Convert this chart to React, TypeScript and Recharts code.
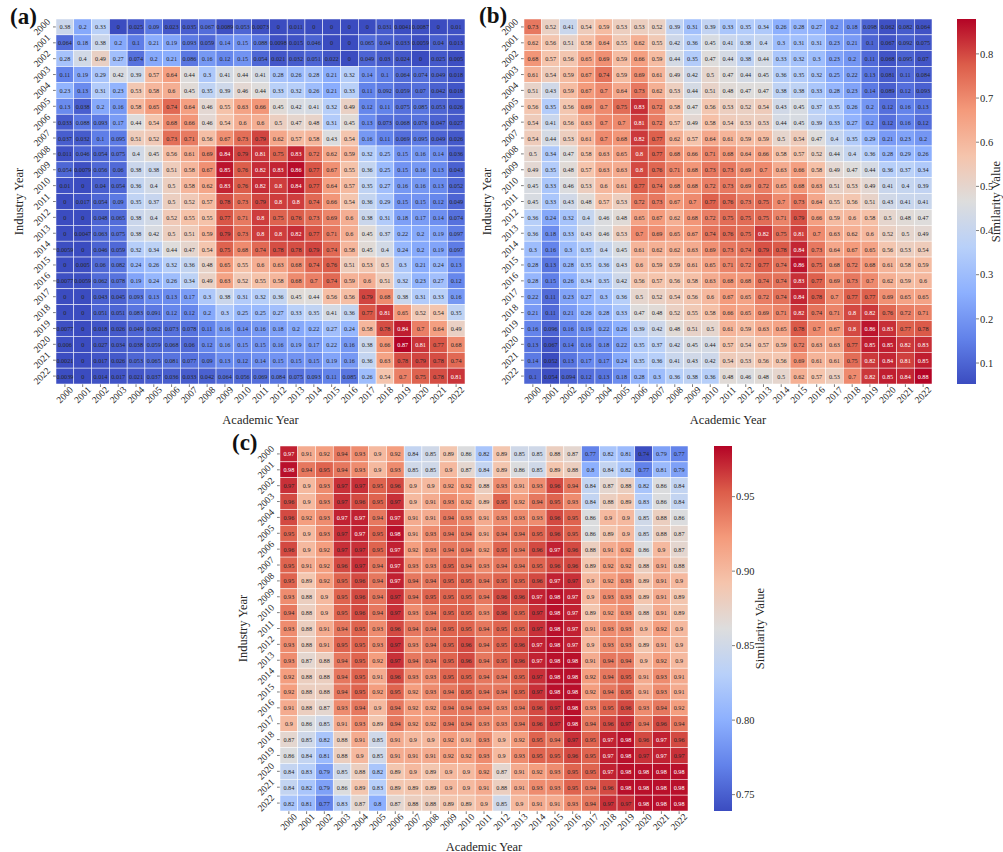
import { BarChart, Bar, Scatter, ScatterChart, XAxis, YAxis } from "recharts";

const years = [
  2000, 2001, 2002, 2003, 2004, 2005, 2006, 2007, 2008, 2009, 2010, 2011,
  2012, 2013, 2014, 2015, 2016, 2017, 2018, 2019, 2020, 2021, 2022,
];

// rows are industry years, columns academic years
const panelA = [
  [0.38, 0.2, 0.33, 0, 0.025, 0.09, 0.023, 0.035, 0.067, 0.0089, 0.053, 0.0073, 0, 0.011, 0, 0, 0, 0, 0.031, 0.0041, 0.0087, 0, 0.01],
  [0.064, 0.18, 0.38, 0.2, 0.1, 0.21, 0.19, 0.093, 0.059, 0.14, 0.15, 0.088, 0.0098, 0.015, 0.046, 0, 0, 0.065, 0.04, 0.033, 0.0059, 0.04, 0.013],
  [0.28, 0.4, 0.49, 0.27, 0.074, 0.2, 0.21, 0.086, 0.16, 0.12, 0.15, 0.054, 0.021, 0.032, 0.051, 0.022, 0, 0.049, 0.03, 0.024, 0, 0.025, 0.005],
  [0.11, 0.19, 0.29, 0.42, 0.39, 0.57, 0.64, 0.44, 0.3, 0.41, 0.44, 0.41, 0.28, 0.26, 0.28, 0.21, 0.32, 0.14, 0.1, 0.064, 0.074, 0.049, 0.018],
  [0.23, 0.13, 0.31, 0.23, 0.53, 0.58, 0.6, 0.45, 0.35, 0.39, 0.46, 0.44, 0.33, 0.32, 0.26, 0.21, 0.33, 0.11, 0.092, 0.059, 0.07, 0.042, 0.018],
  [0.13, 0.038, 0.2, 0.16, 0.58, 0.65, 0.74, 0.64, 0.46, 0.55, 0.63, 0.66, 0.45, 0.42, 0.41, 0.32, 0.49, 0.12, 0.11, 0.075, 0.085, 0.053, 0.026],
  [0.033, 0.088, 0.093, 0.17, 0.44, 0.54, 0.68, 0.66, 0.46, 0.54, 0.6, 0.6, 0.5, 0.47, 0.48, 0.31, 0.45, 0.13, 0.073, 0.068, 0.076, 0.047, 0.027],
  [0.037, 0.032, 0.1, 0.095, 0.51, 0.52, 0.73, 0.71, 0.56, 0.67, 0.73, 0.79, 0.62, 0.57, 0.58, 0.43, 0.54, 0.16, 0.11, 0.069, 0.095, 0.049, 0.026],
  [0.011, 0.046, 0.054, 0.075, 0.4, 0.45, 0.56, 0.61, 0.69, 0.84, 0.79, 0.81, 0.75, 0.83, 0.72, 0.62, 0.59, 0.32, 0.25, 0.15, 0.16, 0.14, 0.036],
  [0.054, 0.0079, 0.056, 0.06, 0.38, 0.38, 0.51, 0.58, 0.67, 0.85, 0.76, 0.82, 0.83, 0.86, 0.77, 0.67, 0.55, 0.36, 0.25, 0.15, 0.16, 0.13, 0.043],
  [0.01, 0, 0.04, 0.054, 0.36, 0.4, 0.5, 0.58, 0.62, 0.83, 0.76, 0.82, 0.8, 0.84, 0.77, 0.64, 0.57, 0.35, 0.27, 0.16, 0.16, 0.13, 0.052],
  [0, 0.017, 0.054, 0.09, 0.35, 0.37, 0.5, 0.52, 0.57, 0.78, 0.73, 0.79, 0.8, 0.8, 0.74, 0.66, 0.54, 0.36, 0.29, 0.15, 0.15, 0.12, 0.049],
  [0, 0, 0.048, 0.065, 0.38, 0.4, 0.52, 0.55, 0.55, 0.77, 0.71, 0.8, 0.75, 0.76, 0.73, 0.69, 0.6, 0.38, 0.31, 0.18, 0.17, 0.14, 0.074],
  [0, 0.0047, 0.063, 0.075, 0.38, 0.42, 0.5, 0.51, 0.59, 0.79, 0.73, 0.8, 0.8, 0.82, 0.77, 0.71, 0.6, 0.45, 0.37, 0.22, 0.2, 0.19, 0.097],
  [0.0059, 0, 0.046, 0.059, 0.32, 0.34, 0.44, 0.47, 0.54, 0.75, 0.68, 0.74, 0.78, 0.78, 0.79, 0.74, 0.58, 0.45, 0.4, 0.24, 0.2, 0.19, 0.097],
  [0, 0.005, 0.06, 0.082, 0.24, 0.26, 0.32, 0.36, 0.48, 0.65, 0.55, 0.6, 0.63, 0.68, 0.74, 0.76, 0.51, 0.53, 0.5, 0.3, 0.21, 0.24, 0.13],
  [0.0077, 0.0059, 0.062, 0.078, 0.19, 0.24, 0.26, 0.34, 0.49, 0.63, 0.52, 0.55, 0.58, 0.68, 0.7, 0.74, 0.59, 0.6, 0.51, 0.32, 0.23, 0.27, 0.12],
  [0, 0, 0.043, 0.045, 0.093, 0.13, 0.13, 0.17, 0.3, 0.38, 0.31, 0.32, 0.36, 0.45, 0.44, 0.56, 0.56, 0.79, 0.68, 0.38, 0.31, 0.33, 0.16],
  [0, 0, 0.051, 0.051, 0.083, 0.091, 0.12, 0.12, 0.2, 0.3, 0.25, 0.25, 0.27, 0.33, 0.35, 0.41, 0.36, 0.77, 0.81, 0.65, 0.52, 0.54, 0.35],
  [0.0077, 0, 0.018, 0.026, 0.049, 0.062, 0.073, 0.078, 0.11, 0.16, 0.14, 0.16, 0.18, 0.2, 0.22, 0.27, 0.24, 0.58, 0.78, 0.84, 0.7, 0.64, 0.49],
  [0.006, 0, 0.027, 0.034, 0.038, 0.059, 0.068, 0.06, 0.12, 0.16, 0.15, 0.15, 0.16, 0.19, 0.17, 0.22, 0.16, 0.38, 0.66, 0.87, 0.81, 0.77, 0.68],
  [0.0021, 0, 0.017, 0.026, 0.053, 0.065, 0.081, 0.077, 0.09, 0.13, 0.12, 0.14, 0.15, 0.15, 0.15, 0.19, 0.16, 0.36, 0.63, 0.78, 0.79, 0.78, 0.74],
  [0.0039, 0, 0.014, 0.017, 0.021, 0.037, 0.036, 0.033, 0.042, 0.064, 0.056, 0.069, 0.084, 0.075, 0.093, 0.11, 0.085, 0.26, 0.54, 0.7, 0.75, 0.78, 0.81],
];

const panelB = [
  [0.73, 0.52, 0.41, 0.54, 0.59, 0.53, 0.53, 0.52, 0.39, 0.31, 0.39, 0.33, 0.35, 0.34, 0.26, 0.28, 0.27, 0.2, 0.18, 0.098, 0.062, 0.082, 0.064],
  [0.62, 0.56, 0.51, 0.58, 0.64, 0.55, 0.62, 0.55, 0.42, 0.36, 0.45, 0.41, 0.38, 0.4, 0.3, 0.31, 0.31, 0.23, 0.21, 0.1, 0.067, 0.092, 0.075],
  [0.68, 0.57, 0.56, 0.65, 0.69, 0.59, 0.66, 0.59, 0.44, 0.35, 0.47, 0.44, 0.38, 0.44, 0.33, 0.32, 0.3, 0.23, 0.2, 0.11, 0.068, 0.095, 0.07],
  [0.61, 0.54, 0.59, 0.67, 0.74, 0.59, 0.69, 0.61, 0.49, 0.42, 0.5, 0.47, 0.44, 0.45, 0.36, 0.35, 0.32, 0.25, 0.22, 0.13, 0.081, 0.11, 0.084],
  [0.51, 0.43, 0.59, 0.67, 0.7, 0.64, 0.73, 0.62, 0.53, 0.44, 0.51, 0.48, 0.47, 0.47, 0.38, 0.38, 0.33, 0.28, 0.23, 0.14, 0.089, 0.12, 0.093],
  [0.56, 0.35, 0.56, 0.69, 0.7, 0.75, 0.83, 0.72, 0.58, 0.47, 0.56, 0.53, 0.52, 0.54, 0.43, 0.45, 0.37, 0.35, 0.26, 0.2, 0.12, 0.16, 0.13],
  [0.54, 0.41, 0.56, 0.63, 0.7, 0.7, 0.81, 0.72, 0.57, 0.49, 0.58, 0.54, 0.53, 0.53, 0.44, 0.45, 0.39, 0.33, 0.27, 0.2, 0.12, 0.16, 0.12],
  [0.54, 0.44, 0.53, 0.61, 0.7, 0.68, 0.82, 0.77, 0.62, 0.57, 0.64, 0.61, 0.59, 0.59, 0.5, 0.54, 0.47, 0.4, 0.35, 0.29, 0.21, 0.23, 0.2],
  [0.5, 0.34, 0.47, 0.58, 0.63, 0.65, 0.8, 0.77, 0.68, 0.66, 0.71, 0.68, 0.64, 0.66, 0.58, 0.57, 0.52, 0.44, 0.4, 0.36, 0.28, 0.29, 0.26],
  [0.49, 0.35, 0.48, 0.57, 0.63, 0.63, 0.8, 0.76, 0.71, 0.68, 0.73, 0.73, 0.69, 0.7, 0.63, 0.66, 0.58, 0.49, 0.47, 0.44, 0.36, 0.37, 0.34],
  [0.45, 0.33, 0.46, 0.53, 0.6, 0.61, 0.77, 0.74, 0.68, 0.68, 0.72, 0.73, 0.69, 0.72, 0.65, 0.68, 0.63, 0.51, 0.53, 0.49, 0.41, 0.4, 0.39],
  [0.45, 0.33, 0.43, 0.48, 0.57, 0.53, 0.72, 0.73, 0.67, 0.7, 0.77, 0.76, 0.73, 0.75, 0.7, 0.73, 0.64, 0.55, 0.56, 0.51, 0.43, 0.41, 0.41],
  [0.36, 0.24, 0.32, 0.4, 0.46, 0.48, 0.65, 0.67, 0.62, 0.68, 0.72, 0.75, 0.75, 0.75, 0.71, 0.79, 0.66, 0.59, 0.6, 0.58, 0.5, 0.48, 0.47],
  [0.36, 0.18, 0.33, 0.43, 0.46, 0.53, 0.7, 0.69, 0.65, 0.67, 0.74, 0.76, 0.75, 0.82, 0.75, 0.81, 0.7, 0.63, 0.62, 0.6, 0.52, 0.5, 0.49],
  [0.3, 0.16, 0.3, 0.35, 0.4, 0.45, 0.61, 0.62, 0.62, 0.63, 0.69, 0.73, 0.74, 0.79, 0.78, 0.84, 0.73, 0.64, 0.67, 0.65, 0.56, 0.53, 0.54],
  [0.28, 0.13, 0.28, 0.35, 0.36, 0.43, 0.6, 0.59, 0.59, 0.61, 0.65, 0.71, 0.72, 0.77, 0.74, 0.86, 0.75, 0.68, 0.72, 0.68, 0.61, 0.58, 0.59],
  [0.28, 0.15, 0.26, 0.34, 0.35, 0.42, 0.56, 0.57, 0.56, 0.58, 0.63, 0.68, 0.68, 0.74, 0.74, 0.83, 0.77, 0.69, 0.73, 0.7, 0.62, 0.59, 0.6],
  [0.22, 0.11, 0.23, 0.27, 0.3, 0.36, 0.5, 0.52, 0.54, 0.56, 0.6, 0.67, 0.65, 0.72, 0.74, 0.84, 0.78, 0.7, 0.77, 0.77, 0.69, 0.65, 0.65],
  [0.21, 0.11, 0.21, 0.26, 0.28, 0.33, 0.47, 0.48, 0.52, 0.55, 0.58, 0.66, 0.65, 0.69, 0.71, 0.82, 0.74, 0.71, 0.8, 0.82, 0.76, 0.72, 0.71],
  [0.16, 0.096, 0.16, 0.19, 0.22, 0.26, 0.39, 0.42, 0.48, 0.51, 0.5, 0.61, 0.59, 0.63, 0.65, 0.78, 0.7, 0.67, 0.8, 0.86, 0.83, 0.77, 0.78],
  [0.13, 0.067, 0.14, 0.16, 0.18, 0.22, 0.35, 0.37, 0.42, 0.45, 0.44, 0.57, 0.54, 0.57, 0.59, 0.72, 0.63, 0.63, 0.77, 0.85, 0.85, 0.82, 0.83],
  [0.14, 0.052, 0.13, 0.17, 0.17, 0.24, 0.35, 0.36, 0.41, 0.43, 0.42, 0.54, 0.53, 0.56, 0.56, 0.69, 0.61, 0.61, 0.75, 0.82, 0.84, 0.81, 0.85],
  [0.1, 0.054, 0.094, 0.12, 0.13, 0.18, 0.28, 0.3, 0.36, 0.38, 0.36, 0.48, 0.46, 0.48, 0.5, 0.62, 0.57, 0.53, 0.7, 0.82, 0.85, 0.84, 0.88],
];

// third decimal kept where it shows: 0.974 prints 0.97 in white, 0.969 in black
const panelC = [
  [0.974, 0.91, 0.92, 0.94, 0.93, 0.9, 0.92, 0.84, 0.85, 0.89, 0.86, 0.82, 0.89, 0.85, 0.85, 0.88, 0.87, 0.77, 0.82, 0.81, 0.74, 0.79, 0.77],
  [0.98, 0.94, 0.95, 0.94, 0.93, 0.9, 0.93, 0.85, 0.85, 0.9, 0.87, 0.84, 0.89, 0.86, 0.85, 0.89, 0.88, 0.8, 0.84, 0.82, 0.77, 0.81, 0.79],
  [0.969, 0.9, 0.93, 0.969, 0.969, 0.95, 0.96, 0.9, 0.9, 0.92, 0.92, 0.88, 0.93, 0.91, 0.93, 0.96, 0.94, 0.84, 0.87, 0.88, 0.82, 0.86, 0.84],
  [0.96, 0.9, 0.93, 0.969, 0.96, 0.95, 0.969, 0.9, 0.91, 0.93, 0.92, 0.89, 0.95, 0.92, 0.94, 0.95, 0.93, 0.84, 0.88, 0.89, 0.83, 0.86, 0.84],
  [0.96, 0.92, 0.93, 0.974, 0.974, 0.94, 0.974, 0.91, 0.91, 0.94, 0.93, 0.91, 0.93, 0.93, 0.93, 0.96, 0.95, 0.86, 0.9, 0.9, 0.85, 0.88, 0.86],
  [0.95, 0.9, 0.93, 0.969, 0.974, 0.95, 0.98, 0.91, 0.93, 0.94, 0.94, 0.91, 0.94, 0.94, 0.95, 0.96, 0.95, 0.86, 0.89, 0.9, 0.85, 0.88, 0.87],
  [0.96, 0.9, 0.92, 0.969, 0.969, 0.95, 0.974, 0.92, 0.93, 0.94, 0.94, 0.92, 0.95, 0.94, 0.96, 0.974, 0.96, 0.88, 0.91, 0.92, 0.86, 0.9, 0.87],
  [0.95, 0.91, 0.92, 0.96, 0.969, 0.94, 0.974, 0.93, 0.93, 0.95, 0.94, 0.93, 0.94, 0.94, 0.95, 0.96, 0.96, 0.89, 0.92, 0.92, 0.88, 0.91, 0.88],
  [0.95, 0.89, 0.92, 0.95, 0.96, 0.94, 0.974, 0.94, 0.94, 0.95, 0.95, 0.94, 0.95, 0.95, 0.96, 0.974, 0.969, 0.9, 0.92, 0.93, 0.89, 0.91, 0.9],
  [0.93, 0.88, 0.9, 0.95, 0.96, 0.94, 0.969, 0.94, 0.95, 0.95, 0.95, 0.94, 0.96, 0.96, 0.974, 0.98, 0.974, 0.9, 0.93, 0.93, 0.89, 0.91, 0.89],
  [0.94, 0.88, 0.9, 0.95, 0.96, 0.94, 0.969, 0.93, 0.94, 0.95, 0.95, 0.93, 0.96, 0.95, 0.969, 0.98, 0.974, 0.89, 0.92, 0.93, 0.88, 0.91, 0.89],
  [0.93, 0.88, 0.91, 0.94, 0.95, 0.93, 0.96, 0.94, 0.94, 0.95, 0.95, 0.94, 0.95, 0.95, 0.969, 0.98, 0.974, 0.91, 0.93, 0.93, 0.9, 0.92, 0.9],
  [0.93, 0.88, 0.91, 0.95, 0.95, 0.93, 0.969, 0.93, 0.94, 0.95, 0.96, 0.94, 0.95, 0.96, 0.974, 0.98, 0.974, 0.9, 0.93, 0.93, 0.89, 0.91, 0.9],
  [0.93, 0.87, 0.88, 0.94, 0.95, 0.92, 0.969, 0.94, 0.94, 0.95, 0.96, 0.94, 0.95, 0.96, 0.974, 0.98, 0.98, 0.91, 0.94, 0.94, 0.9, 0.92, 0.9],
  [0.92, 0.88, 0.88, 0.94, 0.95, 0.91, 0.96, 0.93, 0.93, 0.95, 0.95, 0.94, 0.94, 0.95, 0.969, 0.98, 0.98, 0.92, 0.94, 0.95, 0.91, 0.93, 0.91],
  [0.92, 0.88, 0.88, 0.94, 0.95, 0.92, 0.95, 0.92, 0.93, 0.94, 0.95, 0.94, 0.94, 0.95, 0.969, 0.98, 0.98, 0.92, 0.94, 0.95, 0.91, 0.93, 0.91],
  [0.91, 0.88, 0.87, 0.93, 0.94, 0.9, 0.94, 0.92, 0.92, 0.94, 0.94, 0.94, 0.93, 0.94, 0.96, 0.969, 0.98, 0.93, 0.95, 0.96, 0.93, 0.94, 0.92],
  [0.9, 0.86, 0.85, 0.91, 0.93, 0.89, 0.94, 0.92, 0.92, 0.94, 0.94, 0.93, 0.93, 0.94, 0.96, 0.969, 0.98, 0.94, 0.96, 0.969, 0.94, 0.96, 0.94],
  [0.87, 0.85, 0.82, 0.88, 0.91, 0.85, 0.91, 0.9, 0.9, 0.92, 0.91, 0.93, 0.9, 0.92, 0.95, 0.94, 0.969, 0.95, 0.974, 0.98, 0.96, 0.974, 0.96],
  [0.86, 0.84, 0.81, 0.88, 0.9, 0.85, 0.91, 0.91, 0.91, 0.92, 0.92, 0.93, 0.9, 0.93, 0.95, 0.95, 0.96, 0.95, 0.974, 0.98, 0.969, 0.974, 0.969],
  [0.84, 0.83, 0.79, 0.85, 0.88, 0.82, 0.89, 0.9, 0.89, 0.9, 0.9, 0.92, 0.87, 0.91, 0.92, 0.93, 0.95, 0.95, 0.974, 0.98, 0.98, 0.98, 0.98],
  [0.84, 0.82, 0.79, 0.86, 0.89, 0.83, 0.89, 0.89, 0.89, 0.9, 0.9, 0.91, 0.88, 0.91, 0.93, 0.93, 0.95, 0.94, 0.96, 0.98, 0.98, 0.98, 0.98],
  [0.82, 0.81, 0.77, 0.83, 0.87, 0.8, 0.87, 0.88, 0.88, 0.89, 0.89, 0.9, 0.85, 0.9, 0.91, 0.91, 0.93, 0.94, 0.969, 0.969, 0.98, 0.98, 0.98],
];

const barTicksB = [0.1, 0.2, 0.3, 0.4, 0.5, 0.6, 0.7, 0.8];
const barTicksC = [0.75, 0.8, 0.85, 0.9, 0.95];

const coolwarm = [
  [59, 76, 192],
  [98, 130, 234],
  [141, 176, 254],
  [184, 208, 249],
  [221, 221, 221],
  [245, 196, 172],
  [244, 154, 123],
  [220, 93, 74],
  [180, 4, 38],
];

const FONT = "'Liberation Serif', serif";
const INK = "#262626";

function colorAt(t: number) {
  const p = Math.min(Math.max(t, 0), 1) * (coolwarm.length - 1);
  const i = Math.min(Math.floor(p), coolwarm.length - 2);
  const f = p - i;
  const c = coolwarm[i].map((v, k) => Math.round(v + (coolwarm[i + 1][k] - v) * f));
  return `rgb(${c[0]},${c[1]},${c[2]})`;
}

function formatCell(v: number) {
  return String(Number(v.toPrecision(2)));
}

function XTick({ x, y, payload }: any) {
  return (
    <text
      x={x}
      y={y + 6}
      transform={`rotate(-45 ${x} ${y + 6})`}
      textAnchor="middle"
      dominantBaseline="central"
      fontFamily={FONT}
      fontSize={9.5}
      fill={INK}
    >
      {years[Math.floor(payload.value)]}
    </text>
  );
}

function YTick({ x, y, payload }: any) {
  return (
    <text
      x={x - 9}
      y={y}
      transform={`rotate(-45 ${x - 9} ${y})`}
      textAnchor="middle"
      dominantBaseline="central"
      fontFamily={FONT}
      fontSize={9.5}
      fill={INK}
    >
      {years[Math.floor(payload.value)]}
    </text>
  );
}

function Title({ x, y, angle, children }: any) {
  return (
    <text
      x={x}
      y={y}
      transform={angle ? `rotate(${angle} ${x} ${y})` : undefined}
      textAnchor="middle"
      dominantBaseline="central"
      fontFamily={FONT}
      fontSize={12.5}
      fill={INK}
    >
      {children}
    </text>
  );
}

function Heatmap({ rows, vmin, vmax, whiteFrom, left, top, plotLeft, plotTop, plotW, plotH, boxW, boxH, name }: any) {
  const data = rows.flatMap((row: number[], r: number) =>
    row.map((value, c) => ({ col: c + 0.5, row: r + 0.5, value })),
  );
  const ticks = years.map((_, i) => i + 0.5);
  const cw = plotW / years.length;
  const ch = plotH / years.length;
  const yAxisW = plotLeft;
  const xAxisH = boxH - plotTop - plotH;

  const drawCell = (p: any) => {
    const v = p.payload.value;
    return (
      <g>
        <rect
          x={p.cx - cw / 2}
          y={p.cy - ch / 2}
          width={cw}
          height={ch}
          fill={colorAt((v - vmin) / (vmax - vmin))}
          stroke="#fff"
          strokeWidth={0.5}
        />
        <text
          x={p.cx}
          y={p.cy}
          textAnchor="middle"
          dominantBaseline="central"
          fontFamily={FONT}
          fontSize={6.2}
          fill={v >= whiteFrom ? "#fff" : INK}
        >
          {formatCell(v)}
        </text>
      </g>
    );
  };

  return (
    <div style={{ position: "absolute", left, top }}>
      <ScatterChart
        width={boxW}
        height={boxH}
        margin={{ top: plotTop, right: boxW - plotLeft - plotW, left: 0, bottom: 0 }}
      >
        <XAxis
          type="number"
          dataKey="col"
          domain={[0, years.length]}
          ticks={ticks}
          interval={0}
          height={xAxisH}
          axisLine={false}
          tickSize={3}
          tickLine={{ stroke: INK, strokeWidth: 0.6 }}
          tick={<XTick />}
          label={{
            content: () => (
              <Title x={plotLeft + plotW / 2} y={plotTop + plotH + 36}>
                Academic Year
              </Title>
            ),
          }}
        />
        <YAxis
          type="number"
          dataKey="row"
          reversed
          domain={[0, years.length]}
          ticks={ticks}
          interval={0}
          width={yAxisW}
          axisLine={false}
          tickSize={3}
          tickLine={{ stroke: INK, strokeWidth: 0.6 }}
          tick={<YTick />}
          label={{
            content: () => (
              <Title x={plotLeft - 37} y={plotTop + plotH / 2} angle={-90}>
                Industry Year
              </Title>
            ),
          }}
        />
        <Scatter name={name} data={data} shape={drawCell} isAnimationActive={false} />
      </ScatterChart>
    </div>
  );
}

function ColorBar({ id, vmin, vmax, ticks, digits, left, top, barW, barH, boxW, titleX }: any) {
  const data = [{ name: "scale", range: [vmin, vmax] }];
  return (
    <div style={{ position: "absolute", left, top }}>
      <BarChart
        width={boxW}
        height={barH}
        data={data}
        barCategoryGap={0}
        margin={{ top: 0, right: 0, left: 0, bottom: 0 }}
      >
        <defs>
          <linearGradient id={id} x1="0" y1="1" x2="0" y2="0">
            {coolwarm.map((c, i) => (
              <stop
                key={i}
                offset={i / (coolwarm.length - 1)}
                stopColor={`rgb(${c[0]},${c[1]},${c[2]})`}
              />
            ))}
          </linearGradient>
        </defs>
        <XAxis dataKey="name" hide />
        <YAxis
          orientation="right"
          type="number"
          domain={[vmin, vmax]}
          allowDataOverflow
          ticks={ticks}
          interval={0}
          width={boxW - barW}
          axisLine={false}
          tickSize={3}
          tickMargin={1}
          tickLine={{ stroke: INK, strokeWidth: 0.6 }}
          tickFormatter={(v: number) => v.toFixed(digits)}
          tick={{ fontFamily: FONT, fontSize: 10.5, fill: INK }}
          label={{
            content: () => (
              <Title x={titleX} y={barH / 2} angle={-90}>
                Similarity Value
              </Title>
            ),
          }}
        />
        <Bar dataKey="range" fill={`url(#${id})`} isAnimationActive={false} />
      </BarChart>
    </div>
  );
}

function PanelTag({ left, top, children }: any) {
  return (
    <div
      style={{
        position: "absolute",
        left,
        top,
        fontFamily: FONT,
        fontWeight: 700,
        fontSize: 23,
        lineHeight: "26px",
        color: "#111",
      }}
    >
      {children}
    </div>
  );
}

export default function App() {
  return (
    <div style={{ position: "absolute", left: 0, top: 0, width: 1003, height: 852, background: "#fff", overflow: "hidden" }}>
      <Heatmap name="a" rows={panelA} vmin={0} vmax={0.87} whiteFrom={0.795} left={0} top={0} plotLeft={56} plotTop={19} plotW={409} plotH={365} boxW={480} boxH={430} />
      <Heatmap name="b" rows={panelB} vmin={0.052} vmax={0.88} whiteFrom={0.795} left={480} top={0} plotLeft={44} plotTop={19} plotW={408} plotH={365} boxW={460} boxH={430} />
      <Heatmap name="c" rows={panelC} vmin={0.739} vmax={0.984} whiteFrom={0.972} left={225} top={430} plotLeft={55} plotTop={16} plotW={408} plotH={365} boxW={480} boxH={422} />
      <ColorBar id="barB" vmin={0.0525} vmax={0.879} ticks={barTicksB} digits={1} left={957} top={19} barW={19} barH={365} boxW={46} titleX={39} />
      <ColorBar id="barC" vmin={0.739} vmax={0.984} ticks={barTicksC} digits={2} left={714} top={446} barW={18} barH={365} boxW={60} titleX={46} />
      <PanelTag left={10} top={4}>(a)</PanelTag>
      <PanelTag left={479} top={3}>(b)</PanelTag>
      <PanelTag left={232} top={430}>(c)</PanelTag>
    </div>
  );
}
